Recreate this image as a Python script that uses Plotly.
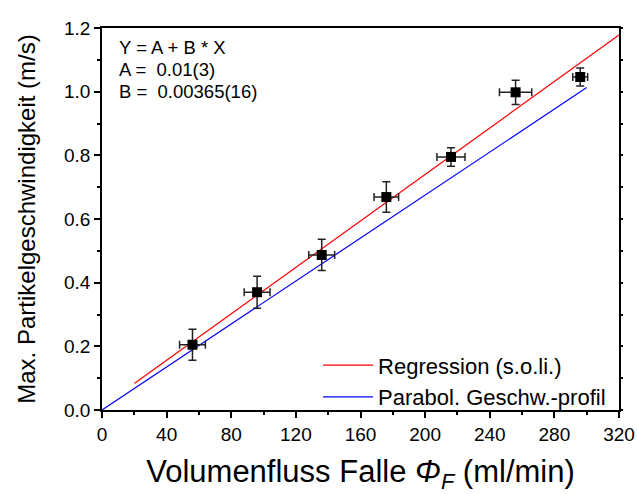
import plotly.graph_objects as go

# Measured maximum particle velocity vs. trap volume flow
flow = [56, 96, 136, 176, 216, 256, 296]            # ml/min
flow_err = [8, 8, 8, 7.6, 8.7, 10, 4.6]
velocity = [0.205, 0.370, 0.487, 0.669, 0.795, 0.998, 1.046]  # m/s
velocity_err = [0.049, 0.050, 0.049, 0.048, 0.029, 0.038, 0.028]

# Linear fit Y = A + B * X
fit_A = 0.01
fit_B = 0.00365
fit_x = [20, 320]

# Parabolic velocity profile (through origin)
para_k = 0.003376
para_x = [0, 300]

x_ticks = [0, 40, 80, 120, 160, 200, 240, 280, 320]
y_ticks = [0.0, 0.2, 0.4, 0.6, 0.8, 1.0, 1.2]

fit_text = ["Y = A + B * X", "A =  0.01(3)", "B =  0.00365(16)"]

font_family = "Liberation Sans, Arial, sans-serif"

fig = go.Figure()

fig.add_trace(go.Scatter(
    x=fit_x, y=[fit_A + fit_B * v for v in fit_x],
    mode="lines", line=dict(color="#FF0000", width=1.2),
    name="Regression (s.o.li.)",
))
fig.add_trace(go.Scatter(
    x=para_x, y=[para_k * v for v in para_x],
    mode="lines", line=dict(color="#0000FF", width=1.2),
    name="Parabol. Geschw.-profil",
))
fig.add_trace(go.Scatter(
    x=flow, y=velocity, mode="markers",
    marker=dict(symbol="square", size=10, color="black"),
    error_x=dict(type="data", array=flow_err, color="#222222", thickness=1.5, width=4),
    error_y=dict(type="data", array=velocity_err, color="#222222", thickness=1.5, width=4),
    showlegend=False,
))
# invisible trace that carries the right-hand tick axis
fig.add_trace(go.Scatter(x=[0], y=[0], yaxis="y2", mode="markers",
                         marker=dict(opacity=0), showlegend=False, hoverinfo="skip"))

# fit parameter box, one line per annotation for tight line spacing
annotations = [
    dict(x=0.029, y=0.948 - i * 0.0576, xref="paper", yref="paper",
         xanchor="left", yanchor="middle", showarrow=False,
         font=dict(size=18.5), text=line)
    for i, line in enumerate(fit_text)
]

fig.update_layout(
    width=637, height=494,
    margin=dict(l=102, r=18, t=28, b=84, autoexpand=False),
    paper_bgcolor="white", plot_bgcolor="white",
    font=dict(family=font_family, color="black", size=19),
    showlegend=True,
    legend=dict(
        x=0.418, y=-0.022, xanchor="left", yanchor="bottom",
        bgcolor="rgba(0,0,0,0)", font=dict(size=22),
        tracegroupgap=0, itemwidth=50,
    ),
    xaxis=dict(
        range=[0, 320], tickvals=x_ticks, ticktext=[str(v) for v in x_ticks],
        showgrid=False, zeroline=False, automargin=False,
        showline=True, linecolor="black", linewidth=1.5, mirror=True,
        ticks="outside", ticklen=6, tickwidth=1.5, tickcolor="black",
        minor=dict(dtick=20, ticks="outside", ticklen=3, tickwidth=1.5, tickcolor="black"),
        tickfont=dict(size=19),
        title=dict(text="Volumenfluss Falle <i>Φ</i><sub><i>F</i></sub> (ml/min)",
                   font=dict(size=31), standoff=17),
    ),
    yaxis=dict(
        range=[0, 1.2], tickvals=y_ticks, tickformat=".1f",
        showgrid=False, zeroline=False, automargin=False,
        showline=True, linecolor="black", linewidth=1.5, mirror=True,
        ticks="outside", ticklen=6, tickwidth=1.5, tickcolor="black",
        minor=dict(dtick=0.1, ticks="outside", ticklen=3, tickwidth=1.5, tickcolor="black"),
        tickfont=dict(size=19),
        title=dict(text="Max. Partikelgeschwindigkeit (m/s)", font=dict(size=24), standoff=22),
    ),
    yaxis2=dict(
        range=[0, 1.2], overlaying="y", side="right", tickvals=y_ticks,
        showticklabels=False, showgrid=False, zeroline=False, showline=False,
        automargin=False,
        ticks="outside", ticklen=3, tickwidth=1.5, tickcolor="black",
        minor=dict(dtick=0.1, ticks="outside", ticklen=3, tickwidth=1.5, tickcolor="black"),
    ),
    annotations=annotations,
)

fig.write_html("out.html")
